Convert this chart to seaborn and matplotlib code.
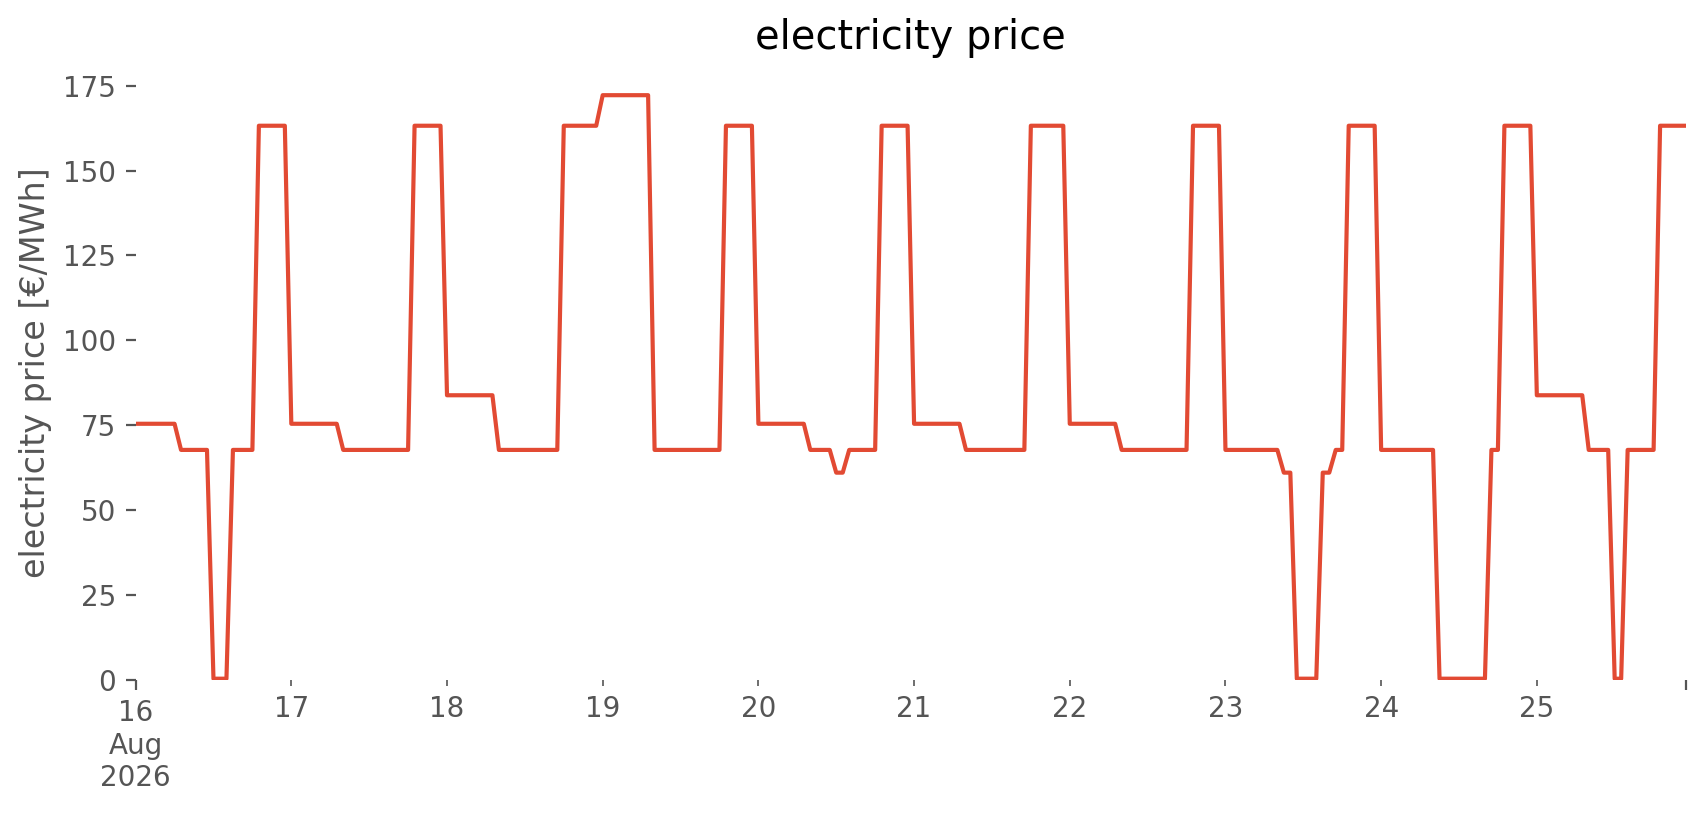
import matplotlib
matplotlib.use('Agg')
import matplotlib.pyplot as plt
import matplotlib.dates as mdates
from matplotlib.ticker import FixedLocator, FixedFormatter
import pandas as pd
import seaborn as sns

# hourly prices [EUR/MWh], one list per day (00:00 .. 23:00)
day_16 = [75.4] * 7 + [67.7] * 5 + [0.3] * 3 + [67.7] * 4 + [163.2] * 5
day_17 = [75.4] * 8 + [67.7] * 11 + [163.2] * 5
day_18 = [83.8] * 8 + [67.7] * 10 + [163.2] * 6
day_19 = [172.2] * 8 + [67.7] * 11 + [163.2] * 5
day_20 = [75.4] * 8 + [67.7] * 4 + [61.0] * 2 + [67.7] * 5 + [163.2] * 5
day_21 = [75.4] * 8 + [67.7] * 10 + [163.2] * 6
day_22 = [75.4] * 8 + [67.7] * 11 + [163.2] * 5
day_23 = [67.7] * 9 + [61.0] * 2 + [0.3] * 4 + [61.0] * 2 + [67.7] * 2 + [163.2] * 5
day_24 = [67.7] * 9 + [0.3] * 8 + [67.7] * 2 + [163.2] * 5
day_25 = [83.8] * 8 + [67.7] * 4 + [0.3] * 2 + [67.7] * 5 + [163.2] * 5

prices = day_16 + day_17 + day_18 + day_19 + day_20 + day_21 + day_22 + day_23 + day_24 + day_25
times = pd.date_range('2026-08-16 00:00', periods=len(prices), freq='h')
day_labels = ['17', '18', '19', '20', '21', '22', '23', '24', '25']

df = pd.DataFrame({'time': times, 'price': prices})

plt.style.use('ggplot')
plt.rcParams['font.family'] = ['DejaVu Sans']

fig = plt.figure(figsize=(8.53, 4.075), dpi=200)
ax = fig.add_axes([0.0795, 0.166, 0.9088, 0.753])
sns.lineplot(data=df, x='time', y='price', color='#E24A33', linewidth=1.5, ax=ax)

ax.set_facecolor('white')
ax.grid(False)
for s in ax.spines.values():
    s.set_visible(False)

ax.set_xlim(times[0], times[-1])
ax.set_ylim(bottom=0)

# pandas-like date ticks: major at ends, minor at each day
start, end = mdates.date2num(times[0]), mdates.date2num(times[-1])
days = pd.date_range('2026-08-17', periods=len(day_labels), freq='D')
ax.xaxis.set_major_locator(FixedLocator([start, end]))
ax.xaxis.set_major_formatter(FixedFormatter(['16\nAug\n2026', '']))
ax.xaxis.set_minor_locator(FixedLocator(mdates.date2num(days)))
ax.xaxis.set_minor_formatter(FixedFormatter(day_labels))
ax.tick_params(axis='x', which='both', labelsize=10, colors='#555555')

ax.set_xlabel('')
ax.set_ylabel('electricity price [€/MWh]')
ax.set_title('electricity price')

fig.savefig('out.png', dpi=200)
